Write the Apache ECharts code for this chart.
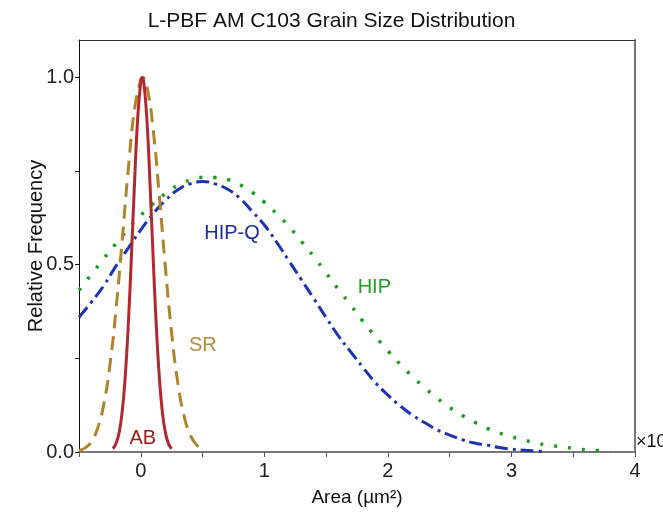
<!DOCTYPE html>
<html>
<head>
<meta charset="utf-8">
<script src="https://cdn.jsdelivr.net/npm/echarts@6/dist/echarts.min.js"></script>
<style>html,body{margin:0;padding:0;background:#fff;}#c{width:663px;height:512px;}</style>
</head>
<body>
<div id="c"></div>
<script>
const titleText = 'L-PBF AM C103 Grain Size Distribution';
const xName = 'Area (µm²)';
const yName = 'Relative Frequency';
const xTicks = [-0.5, 0, 0.5, 1, 1.5, 2, 2.5, 3, 3.5, 4];
const xTickLabels = [0, 1, 2, 3, 4];
const yTicks = [0, 0.25, 0.5, 0.75, 1.0];
const yTickLabels = [0, 0.5, 1.0];

const abData = [[-0.225,0.0088],[-0.2,0.0226],[-0.175,0.0523],[-0.15,0.109],[-0.125,0.205],[-0.1,0.347],[-0.075,0.528],[-0.05,0.723],[-0.025,0.891],[0,0.988],[0.012,1.0],[0.025,0.986],[0.05,0.885],[0.075,0.715],[0.1,0.52],[0.125,0.341],[0.15,0.201],[0.175,0.106],[0.2,0.0507],[0.225,0.0218],[0.25,0.0084]];
const srData = [[-0.5,0.004],[-0.45,0.0111],[-0.4,0.0278],[-0.35,0.0625],[-0.3,0.1268],[-0.25,0.232],[-0.2,0.382],[-0.15,0.567],[-0.1,0.759],[-0.05,0.916],[0,0.995],[0.015,1.0],[0.05,0.975],[0.1,0.861],[0.15,0.684],[0.2,0.49],[0.25,0.317],[0.3,0.184],[0.35,0.0968],[0.4,0.0457],[0.45,0.0195],[0.5,0.0075],[0.52,0.005]];
const hipqData = [[-0.5,0.36],[-0.4,0.40],[-0.3,0.444],[-0.2,0.497],[-0.1,0.545],[0,0.593],[0.1,0.636],[0.2,0.672],[0.3,0.70],[0.4,0.716],[0.5,0.722],[0.6,0.716],[0.7,0.702],[0.8,0.678],[0.9,0.643],[1.0,0.606],[1.1,0.56],[1.2,0.51],[1.3,0.46],[1.4,0.41],[1.5,0.359],[1.6,0.31],[1.7,0.267],[1.8,0.225],[1.9,0.185],[2.0,0.152],[2.1,0.123],[2.2,0.098],[2.3,0.078],[2.4,0.059],[2.5,0.045],[2.6,0.033],[2.7,0.024],[2.8,0.0185],[2.9,0.012],[3.0,0.0075],[3.1,0.0045],[3.2,0.0025],[3.28,0.0012]];
const hipData = [[-0.5,0.432],[-0.4,0.474],[-0.3,0.516],[-0.2,0.557],[-0.1,0.596],[0,0.632],[0.1,0.663],[0.2,0.69],[0.3,0.712],[0.4,0.726],[0.5,0.733],[0.6,0.733],[0.7,0.728],[0.8,0.714],[0.9,0.694],[1.0,0.667],[1.1,0.636],[1.2,0.602],[1.3,0.562],[1.4,0.522],[1.5,0.478],[1.6,0.434],[1.7,0.392],[1.8,0.348],[1.9,0.308],[2.0,0.27],[2.1,0.234],[2.2,0.201],[2.3,0.171],[2.4,0.143],[2.5,0.119],[2.6,0.098],[2.7,0.08],[2.8,0.064],[2.9,0.051],[3.0,0.041],[3.1,0.032],[3.2,0.024],[3.3,0.018],[3.4,0.014],[3.5,0.01],[3.6,0.006],[3.7,0.004],[3.8,0.0025]];

const seriesNames = ['AB', 'SR', 'HIP-Q', 'HIP'];
const labelCoords = [[0.016, 0.035], [0.503, 0.285], [0.738, 0.584], [1.89, 0.44]];

const FONT = '"Liberation Sans", Arial, sans-serif';
const chart = echarts.init(document.getElementById('c'), null, {renderer: 'canvas'});

function lbl(name, coord, color) {
  return {
    symbol: 'circle', symbolSize: 0, silent: true,
    data: [{coord: coord, value: name}],
    label: {show: true, position: 'inside', formatter: name, color: color, fontSize: 20, fontFamily: FONT}
  };
}

const option = {
  animation: false,
  backgroundColor: '#fff',
  title: {
    text: titleText, left: 'center', top: 6,
    textStyle: {fontSize: 21, fontWeight: 'normal', color: '#111', fontFamily: FONT}
  },
  grid: {left: 79, right: 28, top: 40, bottom: 60, containLabel: false},
  xAxis: [{
    type: 'value', min: -0.5, max: 4, interval: 0.5,
    name: xName, nameLocation: 'middle', nameGap: 36, nameMoveOverlap: false,
    nameTextStyle: {fontSize: 19, color: '#111', fontFamily: FONT},
    axisLine: {show: true, onZero: false, lineStyle: {color: '#777', width: 2}},
    axisTick: {show: true, inside: false, length: 5, customValues: xTicks, lineStyle: {color: '#555', width: 1}},
    axisLabel: {customValues: xTickLabels, fontSize: 20, color: '#222', margin: 9, fontFamily: FONT},
    splitLine: {show: false}
  }, {
    type: 'value', position: 'top', min: -0.5, max: 4,
    axisLine: {show: true, onZero: false, lineStyle: {color: '#333', width: 1}},
    axisTick: {show: false}, axisLabel: {show: false}, splitLine: {show: false}
  }],
  yAxis: [{
    type: 'value', min: 0, max: 1.1, interval: 0.25,
    name: yName, nameLocation: 'middle', nameGap: 33, nameRotate: 90, nameMoveOverlap: false,
    nameTextStyle: {fontSize: 20, color: '#111', fontFamily: FONT},
    axisLine: {show: true, onZero: false, lineStyle: {color: '#111', width: 1}},
    axisTick: {show: true, inside: false, length: 4, customValues: yTicks, lineStyle: {color: '#111', width: 1}},
    axisLabel: {customValues: yTickLabels, fontSize: 20, color: '#222', margin: 5, fontFamily: FONT,
      formatter: v => v.toFixed(1)},
    splitLine: {show: false}
  }, {
    type: 'value', position: 'right', min: 0, max: 1.1,
    axisLine: {show: true, onZero: false, lineStyle: {color: '#777', width: 2}},
    axisTick: {show: false}, axisLabel: {show: false}, splitLine: {show: false}
  }],
  graphic: [{
    type: 'text', left: 636, top: 433,
    style: {text: '×10', fill: '#111', font: '18px "Liberation Sans", Arial, sans-serif'}
  }],
  series: [
    {
      name: seriesNames[3], type: 'line', data: hipData, smooth: true, symbol: 'none', z: 2,
      lineStyle: {color: '#15a015', width: 3.5, type: [3, 11], cap: 'butt'},
      markPoint: lbl(seriesNames[3], labelCoords[3], '#1f9f1f')
    },
    {
      name: seriesNames[2], type: 'line', data: hipqData, smooth: true, symbol: 'none', z: 3,
      lineStyle: {color: '#1c33b6', width: 3, type: [13, 5, 3, 5]},
      markPoint: lbl(seriesNames[2], labelCoords[2], '#1b2a9c')
    },
    {
      name: seriesNames[1], type: 'line', data: srData, smooth: true, symbol: 'none', z: 4,
      lineStyle: {color: '#b0842a', width: 3, type: [14, 8]},
      markPoint: lbl(seriesNames[1], labelCoords[1], '#b58b36')
    },
    {
      name: seriesNames[0], type: 'line', data: abData, smooth: true, symbol: 'none', z: 5,
      lineStyle: {color: '#b3282e', width: 3, type: 'solid'},
      markPoint: lbl(seriesNames[0], labelCoords[0], '#9c1a1a')
    }
  ]
};
chart.setOption(option);
</script>
</body>
</html>
